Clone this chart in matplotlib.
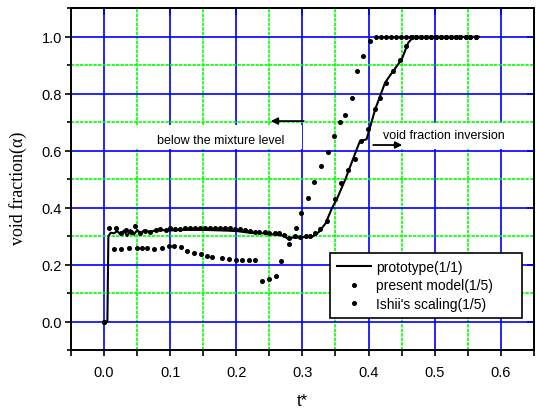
import matplotlib
matplotlib.use("Agg")
import matplotlib.pyplot as plt
from matplotlib.ticker import MultipleLocator
from matplotlib.patches import Rectangle

plt.rcParams["font.family"] = ["Liberation Sans", "DejaVu Sans"]

# prototype(1/1) - solid line
proto_t = [0.0, 0.005, 0.0065, 0.010, 0.015, 0.020, 0.025, 0.030, 0.035, 0.040,
           0.045, 0.050, 0.055, 0.060, 0.070, 0.080, 0.100, 0.120, 0.150, 0.180,
           0.200, 0.220, 0.240, 0.260, 0.270, 0.279, 0.285, 0.300, 0.315, 0.325,
           0.335, 0.345, 0.352, 0.365, 0.378, 0.387, 0.397, 0.410, 0.425, 0.437,
           0.450, 0.460, 0.468, 0.567]
proto_a = [0.0, 0.0, 0.300, 0.312, 0.310, 0.318, 0.305, 0.320, 0.300, 0.322,
           0.305, 0.322, 0.310, 0.320, 0.315, 0.322, 0.320, 0.322, 0.322, 0.320,
           0.318, 0.312, 0.310, 0.305, 0.302, 0.290, 0.295, 0.296, 0.298, 0.315,
           0.345, 0.400, 0.430, 0.500, 0.580, 0.634, 0.640, 0.745, 0.839, 0.879,
           0.920, 0.979, 1.000, 1.000]

# present model(1/5) - dots
present_t = [0.0, 0.0075, 0.0176, 0.025, 0.033, 0.040, 0.047, 0.055, 0.062, 0.070,
             0.078, 0.085, 0.093, 0.100, 0.108, 0.115, 0.123, 0.130, 0.138, 0.145,
             0.153, 0.160, 0.168, 0.175, 0.183, 0.190, 0.198, 0.205, 0.213, 0.220,
             0.228, 0.235, 0.243, 0.250, 0.258, 0.265, 0.272, 0.279, 0.289, 0.297,
             0.305, 0.312, 0.319, 0.327, 0.337, 0.349, 0.359, 0.369, 0.379, 0.389,
             0.399, 0.409, 0.417, 0.426, 0.437, 0.448, 0.456, 0.465, 0.472, 0.479,
             0.487, 0.494, 0.502, 0.509, 0.517, 0.524, 0.532, 0.539, 0.547, 0.554,
             0.562]
present_a = [0.0, 0.327, 0.327, 0.310, 0.320, 0.315, 0.335, 0.310, 0.318, 0.315,
             0.320, 0.325, 0.322, 0.328, 0.325, 0.325, 0.327, 0.327, 0.328, 0.327,
             0.328, 0.327, 0.327, 0.327, 0.327, 0.327, 0.326, 0.325, 0.322, 0.318,
             0.315, 0.315, 0.313, 0.312, 0.310, 0.310, 0.305, 0.295, 0.300, 0.298,
             0.300, 0.300, 0.310, 0.324, 0.353, 0.430, 0.488, 0.534, 0.570, 0.634,
             0.675, 0.745, 0.786, 0.839, 0.879, 0.920, 0.967, 1.000, 1.000, 1.000,
             1.000, 1.000, 1.000, 1.000, 1.000, 1.000, 1.000, 1.000, 1.000, 1.000,
             1.000]

# Ishii's scaling(1/5) - dots
ishii_t = [0.0, 0.015, 0.025, 0.038, 0.050, 0.058, 0.065, 0.075, 0.088, 0.098,
           0.106, 0.116, 0.126, 0.136, 0.146, 0.156, 0.163, 0.178, 0.189, 0.199,
           0.209, 0.219, 0.229, 0.239, 0.249, 0.260, 0.268, 0.279, 0.290, 0.298,
           0.308, 0.318, 0.328, 0.338, 0.347, 0.357, 0.365, 0.375, 0.383, 0.392,
           0.402, 0.412, 0.419, 0.427, 0.434, 0.442, 0.449, 0.457, 0.464, 0.472,
           0.479, 0.487, 0.494, 0.502, 0.509, 0.517, 0.524, 0.532, 0.539, 0.547,
           0.554, 0.562]
ishii_a = [0.0, 0.256, 0.256, 0.260, 0.260, 0.260, 0.260, 0.254, 0.260, 0.265,
           0.265, 0.262, 0.248, 0.242, 0.236, 0.231, 0.228, 0.225, 0.221, 0.218,
           0.218, 0.218, 0.218, 0.143, 0.148, 0.160, 0.213, 0.271, 0.327, 0.382,
           0.435, 0.491, 0.546, 0.596, 0.651, 0.700, 0.727, 0.786, 0.879, 0.932,
           0.985, 1.000, 1.000, 1.000, 1.000, 1.000, 1.000, 1.000, 1.000, 1.000,
           1.000, 1.000, 1.000, 1.000, 1.000, 1.000, 1.000, 1.000, 1.000, 1.000,
           1.000, 1.000]

fig = plt.figure(figsize=(5.36, 4.14), dpi=100)
ax = fig.add_axes([0.1325, 0.152, 0.8635, 0.8255])

ax.set_xlim(-0.05, 0.65)
ax.set_ylim(-0.1, 1.1)
ax.xaxis.set_major_locator(MultipleLocator(0.1))
ax.xaxis.set_minor_locator(MultipleLocator(0.05))
ax.yaxis.set_major_locator(MultipleLocator(0.2))
ax.yaxis.set_minor_locator(MultipleLocator(0.1))
ax.xaxis.set_major_formatter(lambda v, p: "%.1f" % v)
ax.yaxis.set_major_formatter(lambda v, p: "%.1f" % v)

ax.set_axisbelow(True)
ax.grid(which="major", color="#0000ff", lw=1.2, ls="-")
ax.grid(which="minor", color="#00ff00", lw=1.2, ls=(0, (2, 0.7)))

ax.tick_params(axis="x", which="both", direction="out", length=4, width=1.2,
               labelsize=10.5, pad=7)
ax.tick_params(axis="y", which="major", direction="out", length=4, width=1.2,
               labelsize=10.5, pad=2.5)
ax.tick_params(axis="y", which="minor", direction="out", length=3, width=1.2)
for s in ax.spines.values():
    s.set_linewidth(1.4)

top = ax.secondary_xaxis("top")
top.xaxis.set_major_locator(MultipleLocator(0.1))
top.tick_params(direction="in", length=5, width=1.2, labeltop=False)
top.spines["top"].set_linewidth(1.4)
right = ax.secondary_yaxis("right")
right.yaxis.set_major_locator(MultipleLocator(0.2))
right.tick_params(direction="in", length=5, width=1.2, labelright=False)
right.spines["right"].set_linewidth(1.4)

line, = ax.plot(proto_t, proto_a, color="black", lw=1.5, label="prototype(1/1)", zorder=3)
pm, = ax.plot(present_t, present_a, ls="none", marker="o", ms=2.6, color="black",
              label="present model(1/5)", zorder=4)
ish, = ax.plot(ishii_t, ishii_a, ls="none", marker="o", ms=2.6, color="black",
               label="Ishii's scaling(1/5)", zorder=4)

# white boxes behind the annotations
ax.add_patch(Rectangle((0.041, 0.607), 0.258, 0.085, facecolor="white",
                       edgecolor="none", zorder=2))
ax.add_patch(Rectangle((0.410, 0.607), 0.201, 0.090, facecolor="white",
                       edgecolor="none", zorder=2))
ax.text(0.080, 0.628, "below the mixture level", fontsize=9, va="baseline", zorder=5)
ax.text(0.422, 0.646, "void fraction inversion", fontsize=9, va="baseline", zorder=5)
ax.annotate("", xy=(0.252, 0.704), xytext=(0.302, 0.704), zorder=5,
            arrowprops=dict(arrowstyle="-|>", color="black", lw=1.3,
                            mutation_scale=10, shrinkA=0, shrinkB=0))
ax.annotate("", xy=(0.451, 0.620), xytext=(0.407, 0.620), zorder=5,
            arrowprops=dict(arrowstyle="-|>", color="black", lw=1.3,
                            mutation_scale=10, shrinkA=0, shrinkB=0))

leg = ax.legend(handles=[line, pm, ish], loc="lower left",
                bbox_to_anchor=(0.559, 0.093, 0.415, 0.196), mode="expand",
                fontsize=10, frameon=True, fancybox=False, framealpha=1,
                edgecolor="black", handlelength=2.5, handletextpad=0.35,
                labelspacing=0.35, borderpad=0.5, borderaxespad=0)
leg.get_frame().set_linewidth(1.2)
leg.set_zorder(6)

ax.set_xlabel("t*", fontsize=12)
ax.xaxis.set_label_coords(0.5, -0.125)
ax.set_ylabel("void fraction(\u03b1)", fontsize=13, family=["Liberation Serif", "DejaVu Serif"])
ax.yaxis.set_label_coords(-0.095, 0.477)

fig.savefig("out.png", dpi=100)
